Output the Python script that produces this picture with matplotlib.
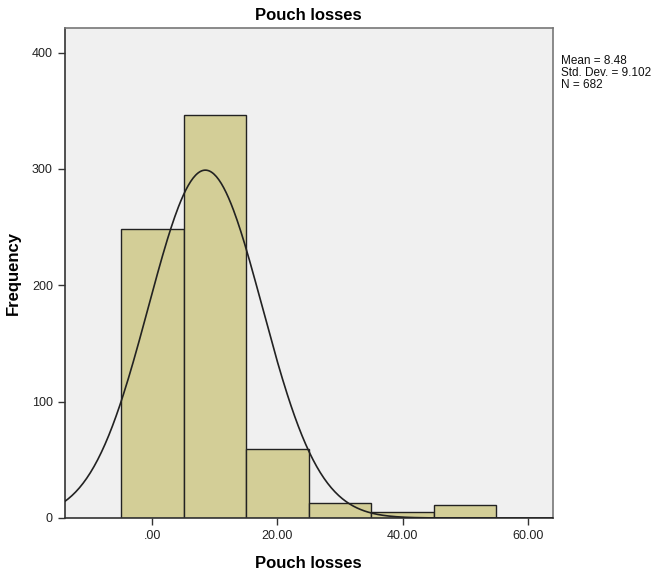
import numpy as np
import matplotlib
matplotlib.use("Agg")
import matplotlib.pyplot as plt

plt.rcParams.update({
    "font.family": ["Liberation Sans", "DejaVu Sans"],
    "font.size": 9,
})

bin_edges = [-5, 5, 15, 25, 35, 45, 55]
counts = [248, 346, 59, 13, 5, 11]
mean, sd, n = 8.48, 9.102, 682
xticks = [0, 20, 40, 60]
xticklabels = [".00", "20.00", "40.00", "60.00"]
yticks = [0, 100, 200, 300, 400]

fig = plt.figure(figsize=(6.62, 5.73), dpi=100)
ax = fig.add_axes([0.0977, 0.096, 0.7373, 0.855])
ax.set_facecolor("#f0f0f0")

widths = np.diff(bin_edges)
ax.bar(bin_edges[:-1], counts, width=widths, align="edge", color="#d3ce97",
       edgecolor="#222222", linewidth=1.0, zorder=2)

# fitted normal curve
xs = np.linspace(-14, 64, 400)
bw = widths[0]
ys = n * bw / (sd * np.sqrt(2 * np.pi)) * np.exp(-0.5 * ((xs - mean) / sd) ** 2)
ax.plot(xs, ys, color="#222222", lw=1.2, zorder=3)

ax.set_xlim(-14, 64)
ax.set_ylim(0, 421)
ax.set_xticks(xticks)
ax.set_xticklabels(xticklabels)
ax.set_yticks(yticks)
ax.tick_params(direction="out", length=5, width=1.0, color="#333333",
               labelsize=9, labelcolor="#222222")
for s in ["left", "bottom"]:
    ax.spines[s].set_color("#333333")
    ax.spines[s].set_linewidth(1.2)
for s in ["top", "right"]:
    ax.spines[s].set_color("#777777")
    ax.spines[s].set_linewidth(1.2)

ax.set_title("Pouch losses", fontsize=12, fontweight="bold", pad=6)
ax.set_xlabel("Pouch losses", fontsize=12, fontweight="bold", labelpad=10)
ax.set_ylabel("Frequency", fontsize=12, fontweight="bold", labelpad=8)

fig.text(561 / 662, 1 - 55 / 573,
         f"Mean = {mean:.2f}\nStd. Dev. = {sd:.3f}\nN = {n}",
         fontsize=8.5, va="top", ha="left", linespacing=1.0, color="#111111")

fig.savefig("out.png", dpi=100)
